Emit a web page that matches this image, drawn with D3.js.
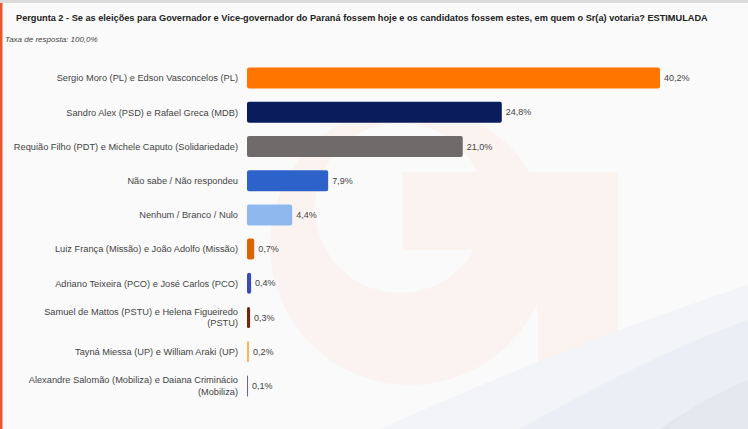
<!DOCTYPE html>
<html>
<head>
<meta charset="utf-8">
<script src="https://cdn.jsdelivr.net/npm/d3@7"></script>
<style>
  html, body { margin: 0; padding: 0; background: #fafafa; }
  #chart { width: 748px; height: 429px; }
</style>
</head>
<body>
<div id="chart"></div>
<script>
const categories = [
  ["Sergio Moro (PL) e Edson Vasconcelos (PL)"],
  ["Sandro Alex (PSD) e Rafael Greca (MDB)"],
  ["Requião Filho (PDT) e Michele Caputo (Solidariedade)"],
  ["Não sabe / Não respondeu"],
  ["Nenhum / Branco / Nulo"],
  ["Luiz França (Missão) e João Adolfo (Missão)"],
  ["Adriano Teixeira (PCO) e José Carlos (PCO)"],
  ["Samuel de Mattos (PSTU) e Helena Figueiredo", "(PSTU)"],
  ["Tayná Miessa (UP) e William Araki (UP)"],
  ["Alexandre Salomão (Mobiliza) e Daiana Criminácio", "(Mobiliza)"]
];
const values = [40.2, 24.8, 21.0, 7.9, 4.4, 0.7, 0.4, 0.3, 0.2, 0.1];
const colors = ["#ff7500", "#0a1c5c", "#6f6b6a", "#2c62c9", "#8fb9ee",
                "#d96400", "#3a4bb4", "#6a2a0c", "#ffb55a", "#6a64a8"];

const width = 748;
const height = 429;
const margin = {top: 61, left: 247, bottom: 26};

const svg = d3.select("#chart").append("svg")
  .attr("width", width)
  .attr("height", height)
  .style("font-family", "'Liberation Sans', Arial, sans-serif");

// fundo
svg.append("rect").attr("width", width).attr("height", height).attr("fill", "#fafafa");

// marca d'agua (logo bem claro) e onda no canto
const ring = d3.path();
ring.arc(410, 245, 140, 0, 2 * Math.PI);
ring.moveTo(485, 208);
ring.arc(400, 208, 85, 0, 2 * Math.PI);
const wm = svg.append("g").attr("fill", "#fcefeb").attr("opacity", 0.6);
wm.append("path").attr("d", ring.toString()).attr("fill-rule", "evenodd");
wm.append("rect").attr("x", 403).attr("y", 172).attr("width", 215).attr("height", 78);
wm.append("rect").attr("x", 538).attr("y", 172).attr("width", 80).attr("height", 213);

svg.append("path")
  .attr("d", "M380,429 Q580,340 748,285 L748,429 Z")
  .attr("fill", "#f2f4f7");
svg.append("path")
  .attr("d", "M520,429 Q650,355 748,320 L748,429 Z")
  .attr("fill", "#ebeef4");
svg.append("path")
  .attr("d", "M660,429 Q710,395 748,380 L748,429 Z")
  .attr("fill", "#e3e8ef");

// faixa superior e borda esquerda
svg.append("rect").attr("x", 0).attr("y", 0).attr("width", width).attr("height", 3).attr("fill", "#dcdcdc");
svg.append("rect").attr("x", 0).attr("y", 3).attr("width", 2.5).attr("height", height - 3).attr("fill", "#e8582c");

svg.append("text")
  .attr("x", 16).attr("y", 21)
  .attr("font-size", "9.2px")
  .attr("font-weight", "bold")
  .attr("fill", "#222")
  .text("Pergunta 2 - Se as eleições para Governador e Vice-governador do Paraná fossem hoje e os candidatos fossem estes, em quem o Sr(a) votaria? ESTIMULADA");

svg.append("text")
  .attr("x", 5).attr("y", 42)
  .attr("font-size", "8px")
  .attr("font-style", "italic")
  .attr("fill", "#444")
  .text("Taxa de resposta: 100,0%");

const y = d3.scaleBand()
  .domain(d3.range(values.length))
  .range([margin.top, height - margin.bottom])
  .paddingInner(0.385)
  .paddingOuter(0.1925);

const x = d3.scaleLinear()
  .domain([0, 40.2])
  .range([margin.left, 660]);

const row = svg.selectAll("g.row")
  .data(values)
  .join("g")
  .attr("class", "row");

row.append("rect")
  .attr("x", x(0))
  .attr("y", (_, i) => y(i))
  .attr("width", d => Math.max(1, x(d) - x(0)))
  .attr("height", y.bandwidth())
  .attr("rx", d => Math.min(2, (x(d) - x(0)) / 2))
  .attr("fill", (_, i) => colors[i]);

row.append("text")
  .attr("x", d => Math.max(x(d), x(0) + 1) + 4)
  .attr("y", (_, i) => y(i) + y.bandwidth() / 2)
  .attr("dy", "0.35em")
  .attr("font-size", "9px")
  .attr("fill", "#444")
  .text(d => d3.format(".1f")(d).replace(".", ",") + "%");

row.each(function (_, i) {
  const lines = categories[i];
  const cy = y(i) + y.bandwidth() / 2;
  const lh = 11.5;
  const t = d3.select(this).append("text")
    .attr("x", 238)
    .attr("text-anchor", "end")
    .attr("font-size", "9.25px")
    .attr("fill", "#444");
  lines.forEach((l, k) => {
    t.append("tspan")
      .attr("x", 238)
      .attr("y", cy + (k - (lines.length - 1) / 2) * lh)
      .attr("dy", "0.35em")
      .text(l);
  });
});
</script>
</body>
</html>
